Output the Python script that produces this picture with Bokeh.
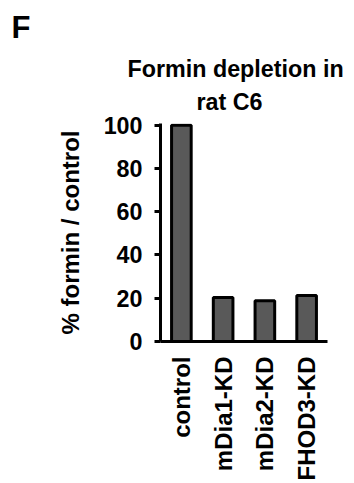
import math
from bokeh.plotting import figure
from bokeh.models import Title, FactorRange, Range1d
from bokeh.embed import file_html
from bokeh.resources import INLINE

categories = ["control", "mDia1-KD", "mDia2-KD", "FHOD3-KD"]
percent_formin = [100, 20.3, 18.9, 21.3]
y_ticks = [0, 20, 40, 60, 80, 100]
title_line1 = "Formin depletion in"
title_line2 = "rat C6"
panel_letter = "F"
y_label = "% formin / control"

FONT = "Liberation Sans"
FS = "23.3px"
FS_LAB = "24px"

p = figure(
    width=354, height=483,
    x_range=FactorRange(*categories, range_padding=0),
    y_range=Range1d(0, 100.8),
    output_backend="svg", toolbar_location=None,
    min_border_left=160, min_border_right=27,
    min_border_top=123, min_border_bottom=141,
)
p.outline_line_color = None
p.xgrid.grid_line_color = None
p.ygrid.grid_line_color = None
p.background_fill_color = "white"
p.border_fill_color = "white"

p.vbar(x=categories, top=percent_formin, width=0.47, bottom=0,
       fill_color="#595959", line_color="black", line_width=3)

# y axis
ya = p.yaxis[0]
ya.ticker = y_ticks
ya.axis_line_width = 3
ya.major_tick_line_width = 3
ya.major_tick_out = 6
ya.major_tick_in = 0
ya.minor_tick_line_color = None
ya.major_label_text_font = FONT
ya.major_label_text_font_style = "bold"
ya.major_label_text_font_size = FS
ya.major_label_text_color = "black"
ya.major_label_standoff = 12
ya.axis_label = y_label
ya.axis_label_text_font = FONT
ya.axis_label_text_font_style = "bold"
ya.axis_label_text_font_size = FS_LAB
ya.axis_label_text_color = "black"
ya.axis_label_standoff = 17

# x axis
xa = p.xaxis[0]
xa.axis_line_width = 3
xa.major_tick_line_color = None
xa.major_tick_out = 0
xa.major_tick_in = 0
xa.minor_tick_line_color = None
xa.major_label_orientation = math.pi / 2
xa.major_label_text_font = FONT
xa.major_label_text_font_style = "bold"
xa.major_label_text_font_size = FS_LAB
xa.major_label_text_color = "black"
xa.major_label_standoff = 15

# titles: added from the frame outward
p.add_layout(Title(text=title_line2, align="left", offset=36, standoff=13,
                   vertical_align="top",
                   text_font=FONT, text_font_style="bold", text_font_size=FS,
                   text_color="black"), "above")
p.add_layout(Title(text=title_line1, align="left", offset=-33, standoff=-2,
                   vertical_align="top",
                   text_font=FONT, text_font_style="bold", text_font_size=FS,
                   text_color="black"), "above")
p.add_layout(Title(text=panel_letter, align="left", offset=-149, standoff=19,
                   vertical_align="top",
                   text_font=FONT, text_font_style="bold", text_font_size="31px",
                   text_color="black"), "above")

open("out.html", "w").write(file_html(p, INLINE))
